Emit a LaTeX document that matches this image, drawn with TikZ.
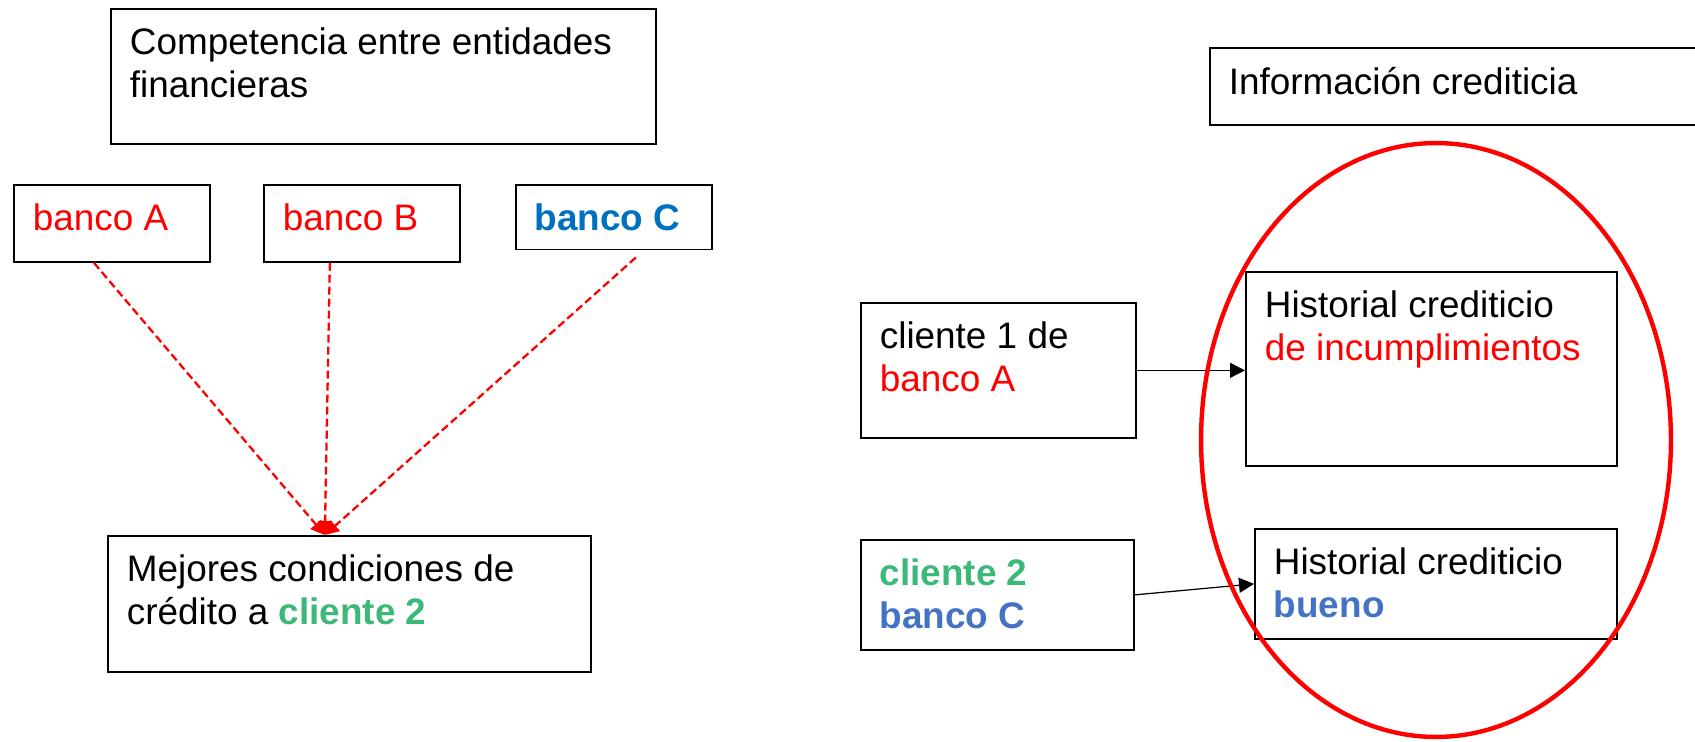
\documentclass[tikz,border=0pt]{standalone}
\usepackage{fontspec}
\setmainfont{Liberation Sans}
\usepackage{tikz}
\usetikzlibrary{arrows.meta}
\usepackage{xcolor}
\definecolor{rojo}{RGB}{255,0,0}
\definecolor{azulC}{RGB}{0,112,192}
\definecolor{azul}{RGB}{68,114,196}
\definecolor{verde}{RGB}{60,184,120}

\begin{document}
\begin{tikzpicture}[x=0.02cm,y=-0.02cm,
    caja/.style={draw,line width=1pt,anchor=north west,inner sep=0.38cm,font=\fontsize{21}{24.5}\selectfont},
    flecha/.style={-{Triangle[length=0.3cm,width=0.3cm]},line width=0.7pt},
    guion/.style={rojo,line width=1.3pt,dash pattern=on 0.16cm off 0.08cm,-{Triangle[length=0.28cm,width=0.28cm]}}]
    \useasboundingbox (0,0) rectangle (1695,741);

    \node[caja] (comp) at (110,8) {\parbox[t][1.94cm][t]{10.14cm}{Competencia entre entidades\\financieras}};

    \node[caja] (bancoA) at (13,184) {\parbox[t][0.78cm][t]{3.16cm}{\textcolor{rojo}{banco A}}};
    \node[caja] (bancoB) at (263,184) {\parbox[t][0.78cm][t]{3.16cm}{\textcolor{rojo}{banco B}}};
    \node[caja] (bancoC) at (515,184) {\parbox[t][0.52cm][t]{3.16cm}{\textcolor{azulC}{\bfseries banco C}}};

    \node[caja] (mejores) at (107,535) {\parbox[t][1.96cm][t]{8.9cm}{Mejores condiciones de\\crédito a \textcolor{verde}{\bfseries cliente 2}}};

    \node[caja] (info) at (1209,47) {\parbox[t][0.78cm][t]{9.46cm}{Información crediticia}};

    \node[caja] (cliA) at (860,302) {\parbox[t][1.94cm][t]{4.74cm}{cliente 1 de\\\textcolor{rojo}{banco A}}};
    \node[caja] (cliB) at (860,539) {\parbox[t][1.44cm][t]{4.7cm}{\textcolor{verde}{\bfseries cliente 2}\\\textcolor{azul}{\bfseries banco C}}};

    \node[caja] (histA) at (1245,271) {\parbox[t][3.12cm][t]{6.66cm}{Historial crediticio\\\textcolor{rojo}{de incumplimientos}}};
    \node[caja] (histB) at (1254,528) {\parbox[t][1.44cm][t]{6.48cm}{Historial crediticio\\\textcolor{azul}{\bfseries bueno}}};

    \coordinate (meta) at ([xshift=-0.49cm]mejores.north);

    \draw[guion] ([xshift=-0.36cm]bancoA.south) -- (meta);
    \draw[guion] ([xshift=-0.64cm]bancoB.south) -- (meta);
    \draw[guion] ([xshift=0.44cm,yshift=-0.14cm]bancoC.south) -- (meta);

    \draw[flecha] (cliA.east) -- (cliA.east -| histA.west);
    \draw[flecha] (cliB.east) -- (histB.west);

    \draw[rojo,line width=2.5pt] (1436,440) ellipse [x radius=4.7cm,y radius=5.94cm];
\end{tikzpicture}
\end{document}
